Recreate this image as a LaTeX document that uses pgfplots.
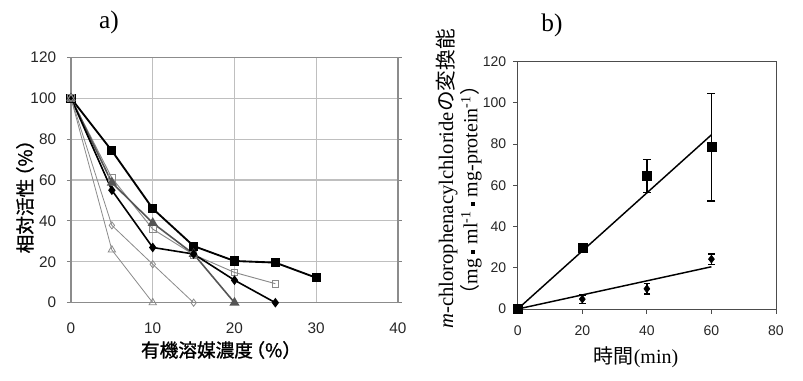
\documentclass[border=0pt]{standalone}
\usepackage{fontspec}
\setmainfont{Liberation Sans}
\newfontfamily\serif{Liberation Serif}
\newfontfamily\cjk{Noto Sans CJK JP}
\newfontfamily\cjkb[FakeBold=1.2]{Noto Sans CJK JP}
\usepackage{pgfplots}
\pgfplotsset{compat=1.18}
\definecolor{grid}{HTML}{8C8C8C}
\definecolor{lgray}{HTML}{8A8A8A}
\definecolor{dgray}{HTML}{555555}
\begin{document}
\begin{tikzpicture}
\useasboundingbox (0,0) rectangle (602.25pt,285pt);
% ---------- panel a ----------
\begin{axis}[
  at={(53.25pt,57.98pt)}, anchor=south west,
  scale only axis, width=245.25pt, height=184.05pt,
  xmin=0, xmax=40, ymin=0, ymax=120,
  xtick={0,10,20,30,40}, ytick={0,20,40,60,80,100,120},
  ymajorgrids, grid style={grid, line width=0.8pt},
  axis line style={grid, line width=0.8pt},
  tick style={grid, line width=0.6pt},
  tick align=outside, major tick length=3pt,
  xtick style={draw=none},
  /pgf/number format/assume math mode=true,
  tick label style={font=\fontsize{11.5}{12}\selectfont, text=black!85},
  xticklabel style={anchor=center, yshift=-16pt},
  yticklabel style={anchor=east, inner sep=0pt, xshift=-8pt},
  clip=false,
]
\addplot[black, line width=1.4pt, mark=square*, mark size=2.7pt, mark options={solid,fill=black}]
  coordinates {(0,100)(5,74.3)(10,46)(15,27.7)(20,20.4)(25,19.6)(30,12.2)};
\addplot[lgray, line width=0.7pt, mark=square, mark size=2.5pt, mark options={fill=white}]
  coordinates {(0,100)(5,61)(10,36)(15,23.5)(20,14.8)(25,9.3)};
\addplot[dgray, line width=1.2pt, mark=triangle*, mark size=3.2pt, mark options={fill=dgray}]
  coordinates {(0,100)(5,58.7)(10,39)(15,23.8)(20,0)};
\addplot[black, line width=1.2pt, mark=diamond*, mark size=2.7pt, mark options={fill=black}]
  coordinates {(0,100)(5,55)(10,27)(15,23.8)(20,11)(25,0)};
\addplot[lgray, line width=0.6pt, mark=diamond, mark size=2.7pt, mark options={fill=white}]
  coordinates {(0,100)(5,37.8)(10,18.8)(15,0)};
\addplot[lgray, line width=0.6pt, mark=triangle, mark size=3.2pt, mark options={fill=white}]
  coordinates {(0,100)(5,25.8)(10,0)};
\end{axis}
% ---------- panel b ----------
\begin{axis}[
  at={(388.3pt,53.25pt)}, anchor=south west,
  scale only axis, width=193.7pt, height=185.5pt,
  xmin=0, xmax=80, ymin=0, ymax=120,
  xtick={0,20,40,60,80}, ytick={0,20,40,60,80,100,120},
  axis line style={black!70, line width=0.7pt},
  tick style={black!70, line width=0.6pt},
  tick align=outside, major tick length=3.5pt,
  xtick pos=bottom, ytick pos=left,
  /pgf/number format/assume math mode=true,
  tick label style={font=\fontsize{10.5}{12}\selectfont, text=black!85},
  xticklabel style={anchor=center, yshift=-13pt},
  yticklabel style={anchor=east, inner sep=0pt, xshift=-5pt},
  clip=false,
]
\addplot[black, line width=1.1pt] coordinates {(0,0)(60,84.5)};
\addplot[black, line width=1.1pt] coordinates {(0,0)(60,20.5)};
\addplot[only marks, black, mark=square*, mark size=3.4pt,
  error bars/.cd, y dir=both, y explicit,
  error bar style={line width=1.1pt}, error mark options={rotate=90, mark size=3pt, line width=1.1pt}]
  coordinates {(0,0) +- (0,0) (20,29.5) +- (0,0) (40,64.5) +- (0,8) (60,78.5) +- (0,26)};
\addplot[only marks, black, mark=diamond*, mark size=3pt,
  error bars/.cd, y dir=both, y explicit,
  error bar style={line width=1pt}, error mark options={rotate=90, mark size=2.5pt, line width=1pt}]
  coordinates {(20,4.8) +- (0,2) (40,9.8) +- (0,2.5) (60,24.2) +- (0,2.5)};
\end{axis}
% ---------- labels ----------
\node at (81.75pt,268.5pt) {\serif\fontsize{19}{22}\selectfont a)};
\node at (414pt,266.25pt) {\serif\fontsize{19}{22}\selectfont b)};
\node[rotate=90] at (18.75pt,141pt) {\cjkb\fontsize{14}{16}\selectfont 相対活性\kern-0.35em（\%）};
\node at (165.75pt,22.5pt) {\cjkb\fontsize{14}{16}\selectfont 有機溶媒濃度\kern-0.35em（\%）};
\node at (477pt,17.25pt) {\fontsize{15}{16}\selectfont{\cjk 時間}{\serif (min)}};
\node[rotate=90] at (335pt,150.75pt) {\fontsize{15.5}{16}\selectfont{\serif\itshape m}{\serif -chlorophenacylchloride}{\cjk の変換能}};
\node[rotate=90] at (353.25pt,142.5pt) {\serif\fontsize{15}{16}\selectfont {\cjk （}mg \raisebox{0.3ex}{\rule{3pt}{3pt}} ml\textsuperscript{-1} \raisebox{0.3ex}{\rule{3pt}{3pt}} mg-protein\textsuperscript{-1}{\cjk ）}};
\end{tikzpicture}
\end{document}
